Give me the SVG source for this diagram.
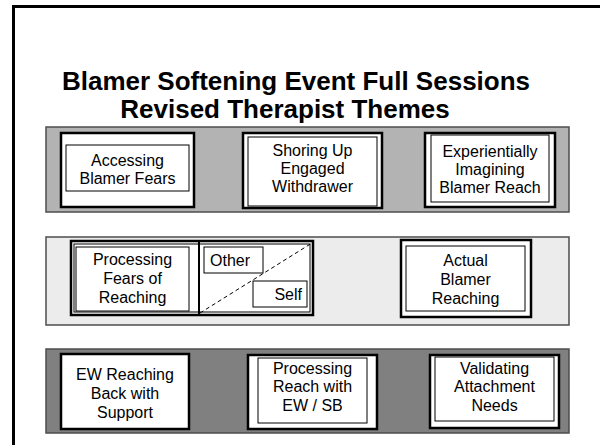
<svg xmlns="http://www.w3.org/2000/svg" width="600" height="445" viewBox="0 0 600 445">
<style>
.t{font-family:"Liberation Sans",Arial,sans-serif;font-size:16px;fill:#000;text-anchor:middle}
.title{font-family:"Liberation Sans",Arial,sans-serif;font-size:26px;font-weight:bold;fill:#000;text-anchor:middle}
.outer{fill:#fff;stroke:#000;stroke-width:2.5}
.inner{fill:#fff;stroke:#000;stroke-width:1}
.band{stroke:#4d4d4d;stroke-width:1.5}
</style>
<rect x="0" y="0" width="600" height="445" fill="#fff"/>
<rect x="13.5" y="6.5" width="700" height="500" fill="none" stroke="#000" stroke-width="3"/>
<g id="title">
<text class="title" x="296" y="90">Blamer Softening Event Full Sessions</text>
<text class="title" x="285" y="118">Revised Therapist Themes</text>
</g>
<g id="band1">
<rect class="band" x="46" y="127" width="523" height="85" fill="#b3b3b3"/>
</g>
<g id="accessing">
<rect class="outer" x="61" y="133" width="133" height="74"/>
<rect class="inner" x="66" y="145" width="123" height="46"/>
<text class="t" x="127.5" y="166">Accessing</text>
<text class="t" x="127.5" y="184">Blamer Fears</text>
</g>
<g id="shoring">
<rect class="outer" x="243" y="133" width="139" height="75"/>
<rect class="inner" x="248" y="137" width="129" height="69"/>
<text class="t" x="312.5" y="156">Shoring Up</text>
<text class="t" x="312.5" y="174">Engaged</text>
<text class="t" x="312.5" y="192">Withdrawer</text>
</g>
<g id="experientially">
<rect class="outer" x="425" y="133" width="130" height="74"/>
<rect class="inner" x="431" y="135" width="118" height="67"/>
<text class="t" x="490" y="157">Experientially</text>
<text class="t" x="490" y="175">Imagining</text>
<text class="t" x="490" y="193">Blamer Reach</text>
</g>
<g id="band2">
<rect class="band" x="46" y="237" width="523" height="88" fill="#ececec"/>
</g>
<g id="processing-fears">
<rect class="outer" x="71" y="241" width="242" height="74"/>
<rect x="74" y="244" width="236" height="68" fill="none" stroke="#000" stroke-width="1"/>
<rect class="inner" x="76" y="247" width="113" height="64"/>
<text class="t" x="132.5" y="265">Processing</text>
<text class="t" x="132.5" y="284">Fears of</text>
<text class="t" x="132.5" y="303">Reaching</text>
</g>
<g id="other-self">
<line x1="199" y1="242" x2="199" y2="314" stroke="#000" stroke-width="2"/>
<line x1="200" y1="313" x2="312" y2="243" stroke="#000" stroke-width="1" stroke-dasharray="4,3"/>
<rect class="inner" x="204" y="247" width="59" height="26"/>
<text class="t" x="210" y="266" style="text-anchor:start">Other</text>
<rect class="inner" x="253" y="281" width="54" height="26"/>
<text class="t" x="302" y="300" style="text-anchor:end">Self</text>
</g>
<g id="actual">
<rect class="outer" x="401" y="240" width="130" height="77"/>
<rect class="inner" x="406" y="246" width="119" height="65"/>
<text class="t" x="465.5" y="266">Actual</text>
<text class="t" x="465.5" y="285">Blamer</text>
<text class="t" x="465.5" y="304">Reaching</text>
</g>
<g id="band3">
<rect class="band" x="46" y="349" width="523" height="84" fill="#808080"/>
</g>
<g id="ew-reaching">
<rect class="outer" x="61" y="354" width="128" height="75"/>
<text class="t" x="125" y="380">EW Reaching</text>
<text class="t" x="125" y="399">Back with</text>
<text class="t" x="125" y="418">Support</text>
</g>
<g id="processing-reach">
<rect class="outer" x="248" y="355" width="129" height="74"/>
<rect class="inner" x="258" y="358" width="109" height="65"/>
<text class="t" x="312.5" y="374">Processing</text>
<text class="t" x="312.5" y="392">Reach with</text>
<text class="t" x="312.5" y="411">EW / SB</text>
</g>
<g id="validating">
<rect class="outer" x="430" y="355" width="129" height="73"/>
<rect class="inner" x="435" y="357" width="119" height="64"/>
<text class="t" x="494.5" y="374">Validating</text>
<text class="t" x="494.5" y="392">Attachment</text>
<text class="t" x="494.5" y="411">Needs</text>
</g>
<g id="connectors"></g>
</svg>
